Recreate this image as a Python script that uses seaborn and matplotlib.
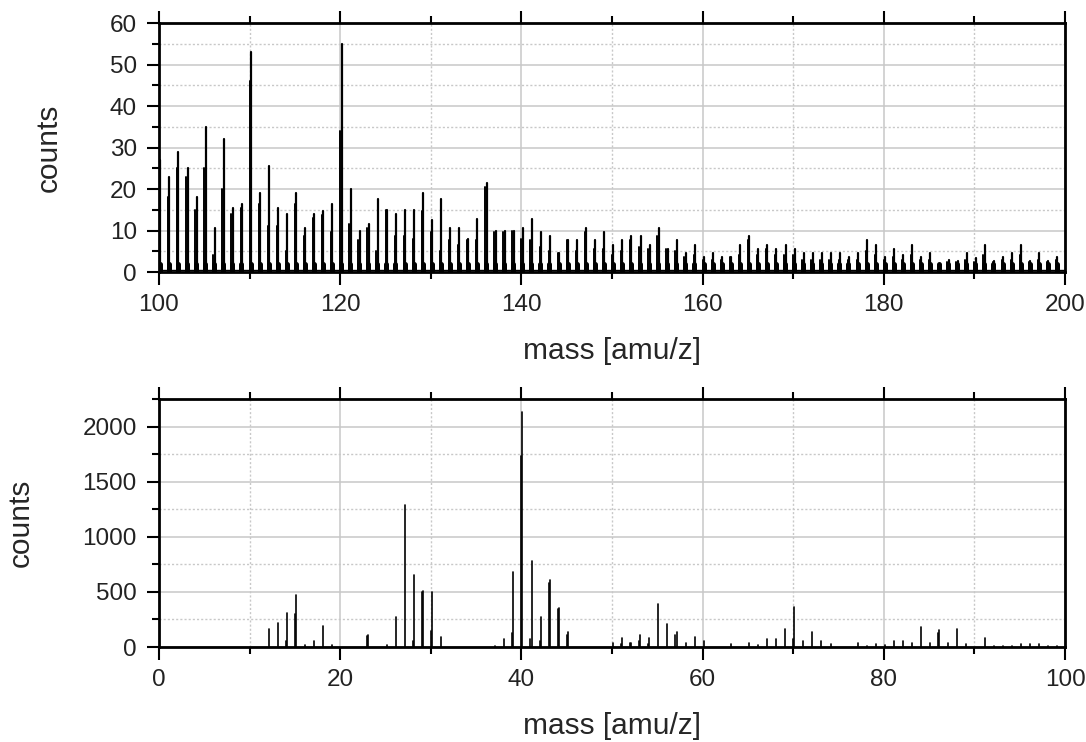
import matplotlib
matplotlib.use('Agg')
from matplotlib import pyplot as plt
from matplotlib.ticker import MultipleLocator
import pandas as pd
import seaborn as sns

# Mass spectrum, high mass range (100-200 amu/z): one tall line per mass
# plus a second, lower line next to it
high_mass = list(range(100, 200))
high_peak = [27, 23, 29, 25, 18, 35, 10.5, 32, 15.5, 16.5,
             53, 19, 25.5, 15.5, 14, 19, 10.5, 14, 14.7, 16.5,
             55, 20, 10, 11.5, 17.6, 15, 14, 15, 15, 19,
             12.5, 17.6, 10.5, 10.5, 8, 12.7, 21.5, 10, 10, 10,
             10.5, 12.7, 9.7, 8.7, 4.7, 7.7, 7.7, 10.5, 7.7, 9.7,
             6.5, 7.7, 8.7, 8.7, 6.5, 10.5, 5.5, 7.7, 4.7, 6.5,
             3.7, 4.7, 3.7, 3.7, 6.5, 8.7, 5.5, 6.5, 5.5, 6.5,
             5.5, 4.7, 4.7, 4.7, 4.7, 4.7, 3.7, 4.7, 7.7, 6.5,
             3.7, 5.5, 4, 6.5, 3.7, 4.7, 1.7, 3, 2.7, 4.7,
             3.3, 6.5, 2.7, 3.7, 4.7, 6.5, 2.7, 4.7, 2.7, 3.7]
high_shoulder = [0, 18, 25, 23, 15, 25, 4, 20, 14, 15.5,
                 46, 16.5, 11, 11, 5, 16.5, 8.7, 13, 13.7, 9.7,
                 34, 11.5, 7.7, 10.5, 5, 15, 8.7, 8.7, 8, 14.7,
                 9.7, 5, 7.7, 6.5, 7.7, 7.7, 20.6, 9.7, 9.7, 10,
                 8, 7.7, 6, 5, 4.7, 7.7, 5, 9.7, 5.5, 5.5,
                 4, 5, 7.7, 6, 5.5, 8.7, 5.5, 5, 3.7, 4,
                 3, 3, 3, 3.7, 4, 7.7, 4, 5.5, 4, 4,
                 4, 3, 3, 3, 3, 3, 3, 3, 5, 4,
                 3, 3.5, 3, 4, 3, 3, 1.5, 2.5, 2.5, 3,
                 2.5, 4, 2.5, 3, 3, 4, 2.5, 3, 2.5, 3]
high_foot = 2.0       # dense base of every peak
high_baseline = 0.6   # noise floor of the trace

# Mass spectrum, low mass range (0-100 amu/z)
low_mass = [12, 13, 14, 15, 16, 17, 18, 19, 23, 25, 26, 27, 28, 29, 30, 31,
            37, 38, 39, 40, 41, 42, 43, 44, 45, 50, 51, 52, 53, 54, 55, 56,
            57, 58, 59, 60, 63, 65, 66, 67, 68, 69, 70, 71, 72, 73, 74, 77,
            78, 79, 80, 81, 82, 83, 84, 85, 86, 87, 88, 89, 91, 92, 93, 94,
            95, 96, 97, 98, 99]
low_peak = [160, 215, 310, 470, 18, 55, 190, 15, 110, 15, 270, 1290, 650,
            510, 500, 95, 12, 70, 680, 2130, 783, 270, 608, 350, 133, 40,
            85, 40, 110, 85, 390, 205, 135, 40, 95, 55, 24, 40, 18, 70, 70,
            160, 360, 55, 135, 55, 24, 40, 12, 24, 18, 55, 55, 40, 185, 40,
            150, 40, 160, 24, 85, 12, 12, 12, 24, 24, 24, 12, 12]
low_shoulder = [0, 0, 55, 300, 0, 0, 0, 0, 100, 0, 0, 0, 55, 500, 148, 0,
                0, 0, 125, 1735, 70, 55, 578, 342, 109, 0, 30, 33, 55, 24,
                0, 0, 109, 0, 0, 0, 0, 0, 0, 0, 0, 0, 70, 0, 0, 0, 0, 0,
                0, 0, 0, 0, 0, 0, 0, 0, 124, 0, 0, 0, 0, 0, 0, 0, 0, 0, 0,
                0, 0]


def sticks(masses, heights, offset):
    # long-form table: every stick is a vertical line from 0 to its height
    rows = []
    for i, (m, h) in enumerate(zip(masses, heights)):
        if h > 0:
            rows.append((m + offset, 0.0, i))
            rows.append((m + offset, h, i))
    return pd.DataFrame(rows, columns=['mass', 'counts', 'stick'])


sns.set_style('whitegrid')
plt.rcParams['font.family'] = ['Liberation Sans', 'DejaVu Sans']

fig = plt.figure(figsize=(10.86, 7.42), dpi=100)
ax_top = fig.add_axes([0.1464, 0.6334, 0.8343, 0.3356])
ax_low = fig.add_axes([0.1464, 0.128, 0.8343, 0.3342])

# high mass range
sns.lineplot(data=sticks(high_mass, [high_foot] * len(high_mass), 0.1),
             x='mass', y='counts', units='stick', estimator=None,
             color='black', lw=3.6, ax=ax_top)
sns.lineplot(data=sticks(high_mass, high_shoulder, 0.0), x='mass',
             y='counts', units='stick', estimator=None, color='black',
             lw=1.4, ax=ax_top)
sns.lineplot(data=sticks(high_mass, high_peak, 0.15), x='mass', y='counts',
             units='stick', estimator=None, color='black', lw=1.6, ax=ax_top)
ax_top.axhline(high_baseline, color='black', lw=1.0)

# low mass range
sns.lineplot(data=sticks(low_mass, low_shoulder, 0.0), x='mass',
             y='counts', units='stick', estimator=None, color='black',
             lw=1.2, ax=ax_low)
sns.lineplot(data=sticks(low_mass, low_peak, 0.12), x='mass', y='counts',
             units='stick', estimator=None, color='black', lw=1.2, ax=ax_low)

ax_top.set_xlim(100, 200)
ax_top.set_ylim(0, 60)
ax_top.xaxis.set_major_locator(MultipleLocator(20))
ax_top.xaxis.set_minor_locator(MultipleLocator(10))
ax_top.yaxis.set_major_locator(MultipleLocator(10))
ax_top.yaxis.set_minor_locator(MultipleLocator(5))

ax_low.set_xlim(0, 100)
ax_low.set_ylim(0, 2250)
ax_low.xaxis.set_major_locator(MultipleLocator(20))
ax_low.xaxis.set_minor_locator(MultipleLocator(10))
ax_low.yaxis.set_major_locator(MultipleLocator(500))
ax_low.yaxis.set_minor_locator(MultipleLocator(250))

for ax in (ax_top, ax_low):
    ax.set_axisbelow(True)
    ax.grid(which='major', color='#c8c8c8', lw=1.1, ls='-')
    ax.grid(which='minor', color='#c8c8c8', lw=1.0, ls=(0, (1.5, 1.5)))
    for side in ax.spines.values():
        side.set_visible(True)
        side.set_color('black')
        side.set_linewidth(2.0)
        side.set_zorder(5)
    ax.tick_params(which='both', direction='out', color='black', width=1.5,
                   bottom=True, top=True, left=True, right=False,
                   labeltop=False, labelright=False)
    ax.tick_params(which='major', length=9, pad=7, labelsize=17.5,
                   labelcolor='#222222')
    ax.tick_params(which='minor', length=5)
    ax.set_xlabel('mass [amu/z]', fontsize=21.5, labelpad=15)
    ax.set_ylabel('counts', fontsize=21.5, labelpad=34)

fig.savefig('out.png', dpi=100)
